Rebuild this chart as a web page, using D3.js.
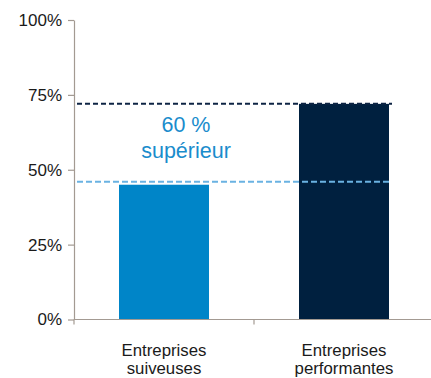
<!DOCTYPE html>
<html>
<head>
<meta charset="utf-8">
<script src="https://cdn.jsdelivr.net/npm/d3@7"></script>
<style>
  body { margin: 0; background: #fff; }
  svg { display: block; font-family: "Liberation Sans", Arial, sans-serif; }
</style>
</head>
<body>
<div id="chart"></div>
<script>
  // data
  var categories = [["Entreprises", "suiveuses"], ["Entreprises", "performantes"]];
  var values = [45, 72];
  var refLines = [46, 72];
  var yTicks = [0, 25, 50, 75, 100];
  var note = ["60 %", "supérieur"];

  var width = 431, height = 378;
  var margin = { top: 20, right: -3, bottom: 58.5, left: 74 };

  var barColors = ["#0085c8", "#00203f"];
  var lineColors = ["#6ab2e2", "#0e2444"];
  var axisColor = "#a39a92";

  var svg = d3.select("#chart").append("svg")
      .attr("width", width)
      .attr("height", height);

  var x = d3.scaleBand()
      .domain(d3.range(categories.length))
      .range([margin.left, width - margin.right])
      .paddingInner(0.5)
      .paddingOuter(0.25);

  var y = d3.scaleLinear()
      .domain([0, 100])
      .range([height - margin.bottom, margin.top]);

  // bars
  svg.append("g")
    .selectAll("rect")
    .data(values)
    .enter()
    .append("rect")
      .attr("x", function (d, i) { return x(i); })
      .attr("y", function (d) { return y(d); })
      .attr("width", x.bandwidth())
      .attr("height", function (d) { return y(0) - y(d); })
      .attr("fill", function (d, i) { return barColors[i]; });

  // dashed reference lines
  var lineEnd = x(categories.length - 1) + x.bandwidth() + 3;
  svg.append("g")
    .selectAll("line")
    .data(refLines)
    .enter()
    .append("line")
      .attr("x1", margin.left + 3)
      .attr("x2", lineEnd)
      .attr("y1", function (d) { return y(d); })
      .attr("y2", function (d) { return y(d); })
      .attr("stroke", function (d, i) { return lineColors[i]; })
      .attr("stroke-width", 2)
      .attr("stroke-dasharray", function (d, i) { return i === 0 ? "6,3" : "5,3"; });

  // y axis
  var yAxis = svg.append("g")
      .attr("transform", "translate(" + margin.left + ",0)")
      .call(d3.axisLeft(y)
        .tickValues(yTicks)
        .tickSize(6)
        .tickSizeOuter(0)
        .tickPadding(6)
        .tickFormat(function (d) { return d + "%"; }));
  yAxis.select(".domain").attr("stroke", axisColor).attr("stroke-width", 1.2);
  yAxis.selectAll(".tick line").attr("stroke", axisColor).attr("stroke-width", 1.2);
  yAxis.selectAll(".tick text")
      .attr("fill", "#1a1a1a")
      .style("font-size", "17px");

  // x axis: line, boundary ticks, two-line labels
  var xAxis = svg.append("g");
  xAxis.append("line")
      .attr("x1", margin.left)
      .attr("x2", width)
      .attr("y1", y(0))
      .attr("y2", y(0))
      .attr("stroke", axisColor)
      .attr("stroke-width", 1.2);

  var bounds = d3.range(categories.length + 1).map(function (i) {
    return margin.left + i * x.step();
  });
  xAxis.selectAll(".xtick")
    .data(bounds)
    .enter()
    .append("line")
      .attr("x1", function (d) { return d; })
      .attr("x2", function (d) { return d; })
      .attr("y1", y(0))
      .attr("y2", y(0) + 5)
      .attr("stroke", axisColor)
      .attr("stroke-width", 1.2);

  var labels = xAxis.selectAll(".xlabel")
    .data(categories)
    .enter()
    .append("text")
      .attr("text-anchor", "middle")
      .attr("fill", "#1a1a1a")
      .style("font-size", "16.8px");
  labels.selectAll("tspan")
    .data(function (d, i) { return d.map(function (t) { return { t: t, i: i }; }); })
    .enter()
    .append("tspan")
      .attr("x", function (d) { return x(d.i) + x.bandwidth() / 2; })
      .attr("y", function (d, j) { return y(0) + 36 + j * 18.3; })
      .text(function (d) { return d.t; });

  // annotation
  svg.append("text")
      .attr("text-anchor", "middle")
      .attr("fill", "#1a8ccc")
      .style("font-size", "21.5px")
    .selectAll("tspan")
    .data(note)
    .enter()
    .append("tspan")
      .attr("x", x(0) + x.bandwidth() / 2 + 22)
      .attr("y", function (d, j) { return y(62.7) + j * 26.6; })
      .text(function (d) { return d; });
</script>
</body>
</html>
